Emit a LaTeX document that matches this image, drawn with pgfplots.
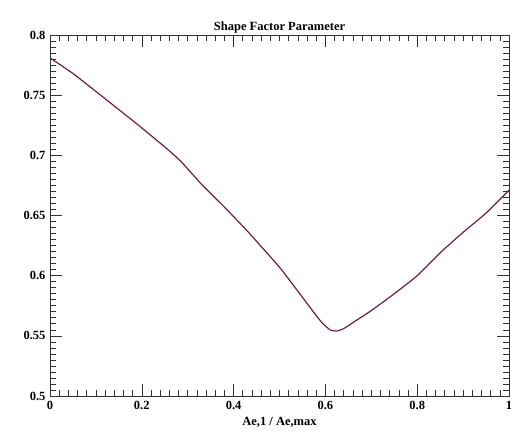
\documentclass[border=0pt]{standalone}
\usepackage{pgfplots}
\pgfplotsset{compat=1.18}
\usepackage{fontspec}
\setmainfont{Liberation Serif}
\definecolor{curve}{RGB}{110,30,70}
\begin{document}
\begin{tikzpicture}[x=1pt,y=1pt]
\useasboundingbox (0,0) rectangle (511,438);
\begin{axis}[
  at={(50pt,42pt)},anchor=south west,
  scale only axis,
  width=459pt,height=361pt,
  xmin=0,xmax=1,ymin=0.5,ymax=0.8,
  xtick={0,0.2,0.4,0.6,0.8,1},
  ytick={0.5,0.55,0.6,0.65,0.7,0.75,0.8},
  xticklabels={0,0.2,0.4,0.6,0.8,1},
  yticklabels={0.5,0.55,0.6,0.65,0.7,0.75,0.8},
  minor x tick num=9,
  minor y tick num=9,
  tick align=inside,
  major tick length=12pt,
  minor tick length=6pt,
  every tick/.style={black!80,line width=0.6pt},
  axis line style={line width=0.7pt,black!80},
  tick label style={font=\fontsize{12.5}{14}\selectfont\bfseries},
  xticklabel style={yshift=-2pt},
  yticklabel style={xshift=-1pt},
  title={\fontsize{12.5}{14}\selectfont\bfseries Shape Factor Parameter},
  title style={yshift=-8pt},
  xlabel={\fontsize{12.5}{14}\selectfont\bfseries Ae,1 / Ae,max},
  xlabel style={yshift=0pt},
]
\addplot[color=curve,line width=1.2pt,smooth,tension=0.3] coordinates {
(0,0.781)(0.05,0.768)(0.087,0.757)(0.15,0.738)(0.196,0.724)(0.25,0.707)
(0.285,0.695)(0.33,0.676)(0.38,0.657)(0.43,0.637)(0.5,0.607)(0.55,0.582)
(0.59,0.562)(0.61,0.555)(0.625,0.554)(0.64,0.556)(0.66,0.561)(0.70,0.571)
(0.75,0.585)(0.80,0.600)(0.85,0.619)(0.90,0.636)(0.95,0.652)(1.0,0.671)
};
\end{axis}
\end{tikzpicture}
\end{document}
